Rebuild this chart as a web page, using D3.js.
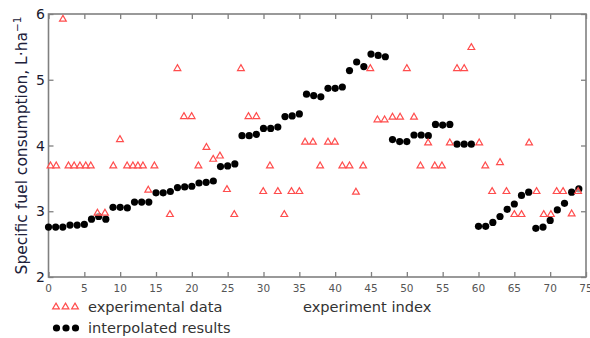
<!DOCTYPE html>
<html>
<head>
<meta charset="utf-8">
<script src="https://cdn.jsdelivr.net/npm/d3@7"></script>
<style>
  body { margin: 0; background: #fff; }
  svg { display: block; }
</style>
</head>
<body>
<div id="chartArea"></div>
<script>
// interpolated results, one per experiment index 0..74
const interpolated = [
  2.76, 2.76, 2.76, 2.79, 2.79, 2.80, 2.88, 2.92, 2.88, 3.06,
  3.06, 3.05, 3.14, 3.14, 3.14, 3.28, 3.28, 3.30, 3.36, 3.37,
  3.38, 3.43, 3.44, 3.46, 3.68, 3.69, 3.72, 4.15, 4.15, 4.17,
  4.26, 4.26, 4.28, 4.44, 4.45, 4.48, 4.78, 4.76, 4.74, 4.87,
  4.87, 4.89, 5.14, 5.27, 5.20, 5.39, 5.37, 5.35, 4.09, 4.06,
  4.06, 4.16, 4.16, 4.15, 4.32, 4.31, 4.32, 4.02, 4.02, 4.02,
  2.77, 2.77, 2.83, 2.92, 3.03, 3.11, 3.24, 3.29, 2.74, 2.76,
  2.86, 3.02, 3.12, 3.29, 3.34
];

// experimental data (position on the index axis, value)
const expIndex = [
  0.28, 1.08, 2.01, 2.79, 3.58, 4.39, 5.2, 5.9, 6.83, 7.88,
  9.04, 9.97, 10.97, 11.78, 12.48, 13.18, 13.92, 14.78, 16.94, 17.99,
  18.9, 19.97, 20.92, 22.04, 22.98, 23.92, 24.9, 25.92, 26.85, 27.9,
  29.0, 29.96, 30.9, 32.0, 32.9, 33.9, 35.0, 35.8, 36.9, 37.9,
  39.0, 39.96, 41.0, 42.0, 42.9, 43.9, 44.9, 45.9, 46.9, 48.0,
  49.06, 50.0, 51.0, 51.9, 52.97, 53.9, 54.9, 56.0, 57.0, 58.0,
  59.0, 60.1, 60.95, 61.9, 63.0, 63.9, 65.0, 66.0, 67.06, 68.1,
  69.1, 70.1, 70.9, 71.8, 73.0, 73.9
];
const expValue = [
  3.69, 3.69, 5.92, 3.69, 3.69, 3.69, 3.69, 3.69, 2.97, 2.97,
  3.69, 4.09, 3.69, 3.69, 3.69, 3.69, 3.32, 3.69, 2.95, 5.17,
  4.44, 4.44, 3.69, 3.97, 3.79, 3.84, 3.33, 2.95, 5.17, 4.44,
  4.44, 3.30, 3.69, 3.30, 2.95, 3.30, 3.30, 4.05, 4.05, 3.69,
  4.05, 4.05, 3.69, 3.69, 3.29, 3.69, 5.17, 4.39, 4.39, 4.43,
  4.43, 5.17, 4.43, 3.69, 4.04, 3.69, 3.69, 4.04, 5.17, 5.17,
  5.49, 4.04, 3.69, 3.30, 3.74, 3.30, 2.95, 2.95, 4.04, 3.30,
  2.95, 2.95, 3.30, 3.30, 2.96, 3.30
];

const xTicks = [0, 5, 10, 15, 20, 25, 30, 35, 40, 45, 50, 55, 60, 65, 70, 75];
const yTicks = [2, 3, 4, 5, 6];

const width = 590, height = 338;
const svg = d3.select("#chartArea").append("svg")
              .attr("width", width)
              .attr("height", height);

const x = d3.scaleLinear().domain([0, 75]).range([48.5, 586]);
const y = d3.scaleLinear().domain([2, 6]).range([277, 14]);

const axisColor = "#808080";
const redColor = "#ff4d4d";

// inward ticks on all four sides
svg.append("g")
    .attr("transform", `translate(0,${y(2)})`)
    .call(d3.axisBottom(x).tickValues(xTicks).tickSize(-5).tickFormat(""))
    .call(g => g.select(".domain").remove());
svg.append("g")
    .attr("transform", `translate(0,${y(6)})`)
    .call(d3.axisTop(x).tickValues(xTicks).tickSize(-5).tickFormat(""))
    .call(g => g.select(".domain").remove());
svg.append("g")
    .attr("transform", `translate(${x(0)},0)`)
    .call(d3.axisLeft(y).tickValues(yTicks).tickSize(-5).tickFormat(""))
    .call(g => g.select(".domain").remove());
svg.append("g")
    .attr("transform", `translate(${x(75)},0)`)
    .call(d3.axisRight(y).tickValues(yTicks).tickSize(-5).tickFormat(""))
    .call(g => g.select(".domain").remove());
svg.selectAll(".tick line").attr("stroke", axisColor).attr("stroke-width", 1.3);

// frame
svg.append("rect")
    .attr("x", x(0)).attr("y", y(6))
    .attr("width", x(75) - x(0)).attr("height", y(2) - y(6))
    .attr("fill", "none")
    .attr("stroke", axisColor)
    .attr("stroke-width", 1.6);

// tick labels
svg.append("g").selectAll("text")
    .data(xTicks)
    .enter().append("text")
      .attr("x", d => x(d))
      .attr("y", 292)
      .attr("text-anchor", "middle")
      .attr("font-family", "DejaVu Sans")
      .attr("font-size", 10.5)
      .attr("fill", "#555")
      .text(d => d);

svg.append("g").selectAll("text")
    .data(yTicks)
    .enter().append("text")
      .attr("x", 45)
      .attr("y", d => y(d) + 5)
      .attr("text-anchor", "end")
      .attr("font-family", "DejaVu Sans")
      .attr("font-size", 14)
      .attr("fill", "#1a1a2e")
      .text(d => d);

// axis titles
const yTitle = svg.append("text")
    .attr("transform", `translate(27,${(283 + 8) / 2}) rotate(-90)`)
    .attr("text-anchor", "middle")
    .attr("font-family", "DejaVu Sans")
    .attr("font-size", 15.5)
    .attr("fill", "#20203a");
yTitle.append("tspan").text("Specific fuel consumption, L·ha");
yTitle.append("tspan").attr("dy", -6).attr("font-size", 10.5).text("−1");

svg.append("text")
    .attr("x", 303)
    .attr("y", 312)
    .attr("font-family", "DejaVu Sans")
    .attr("font-size", 14.6)
    .attr("fill", "#333")
    .text("experiment index");

// data marks
svg.append("g")
    .selectAll("circle")
    .data(interpolated)
    .enter().append("circle")
      .attr("cx", (d, i) => x(i))
      .attr("cy", d => y(d))
      .attr("r", 3.6)
      .attr("fill", "#000");

const tri = d3.symbol().type(d3.symbolTriangle).size(20);
svg.append("g")
    .selectAll("path")
    .data(expValue)
    .enter().append("path")
      .attr("d", tri)
      .attr("transform", (d, i) => `translate(${x(expIndex[i])},${y(d)})`)
      .attr("fill", "#fff")
      .attr("fill-opacity", 0.6)
      .attr("stroke", redColor)
      .attr("stroke-width", 1.2);

// legend
const legend = svg.append("g");
[56, 65.5, 75].forEach(lx => {
  legend.append("path")
      .attr("d", tri)
      .attr("transform", `translate(${lx},307)`)
      .attr("fill", "none")
      .attr("stroke", redColor)
      .attr("stroke-width", 1.2);
  legend.append("circle")
      .attr("cx", lx + 0.5).attr("cy", 328).attr("r", 3.6).attr("fill", "#000");
});
legend.append("text")
    .attr("x", 88).attr("y", 312)
    .attr("font-family", "DejaVu Sans").attr("font-size", 14.6).attr("fill", "#333")
    .text("experimental data");
legend.append("text")
    .attr("x", 88).attr("y", 333)
    .attr("font-family", "DejaVu Sans").attr("font-size", 14.6).attr("fill", "#333")
    .text("interpolated results");
</script>
</body>
</html>
